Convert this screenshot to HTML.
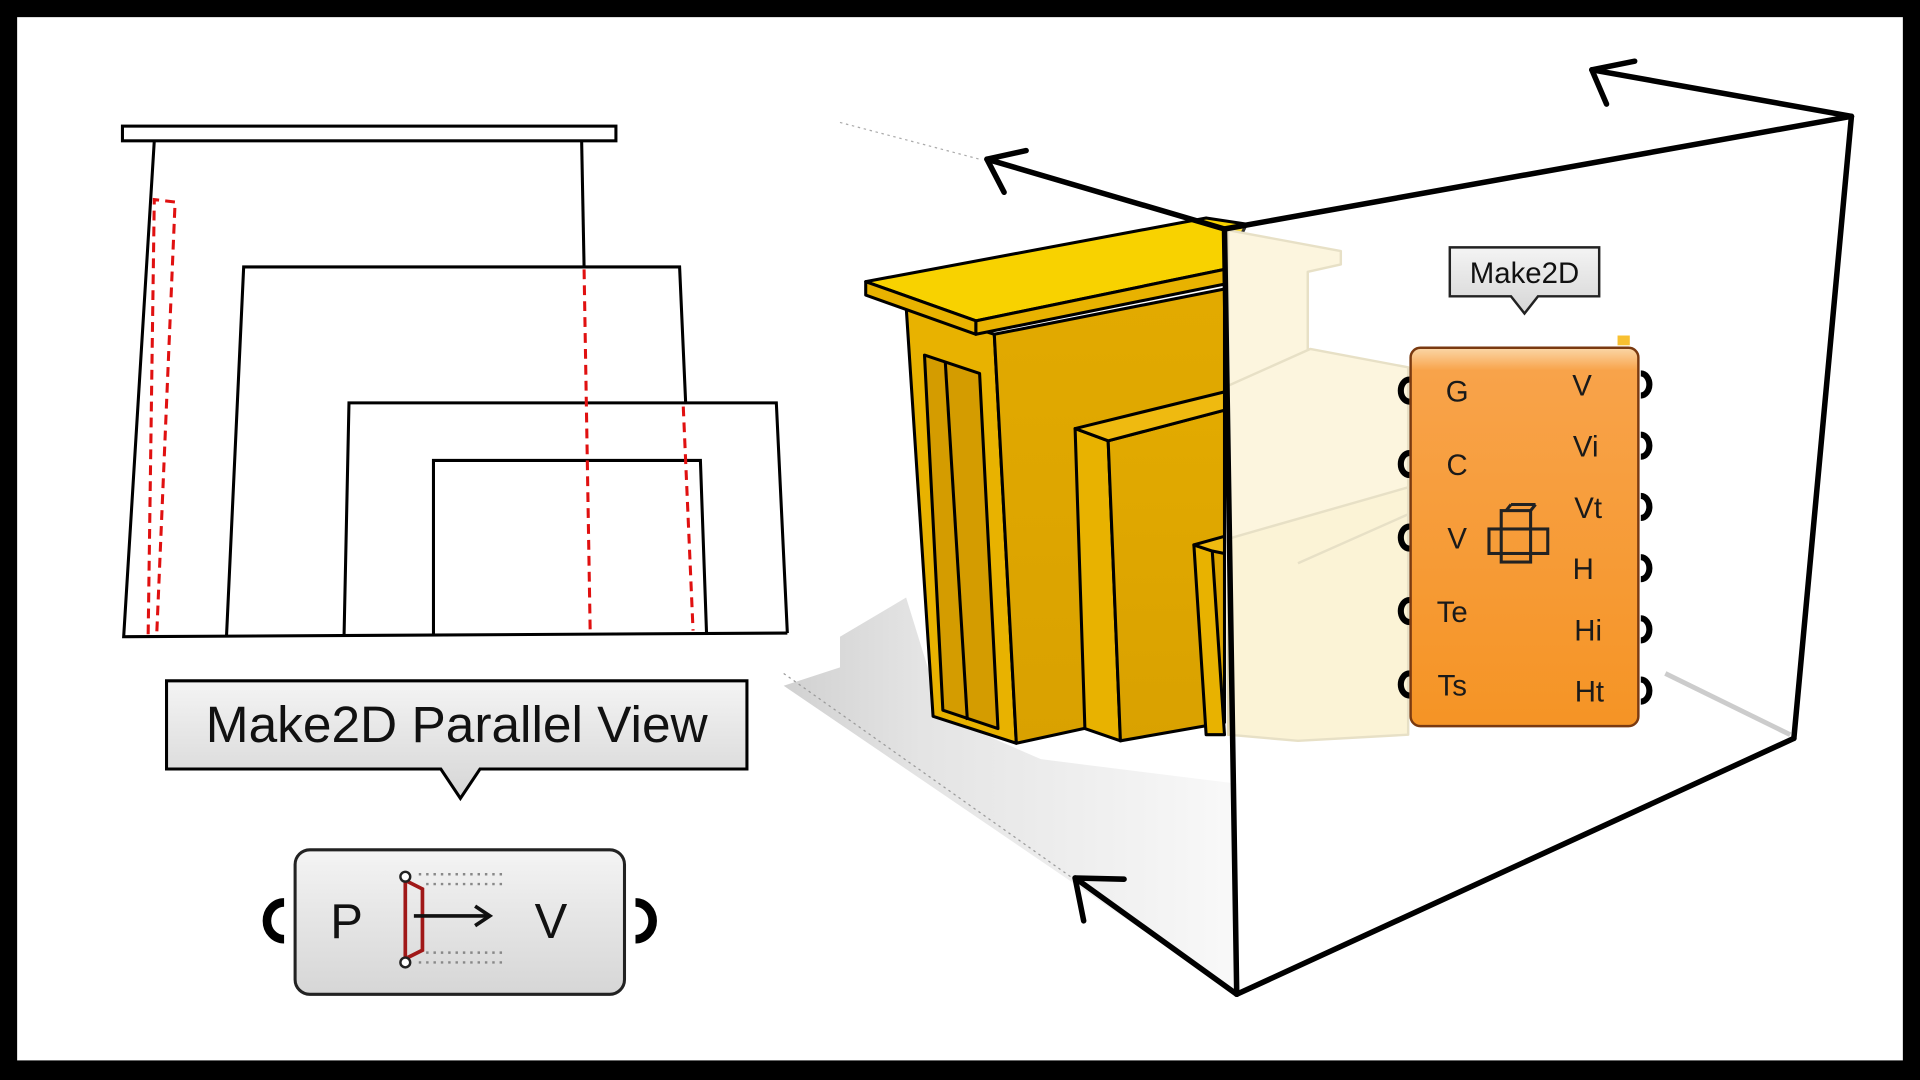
<!DOCTYPE html>
<html><head><meta charset="utf-8"><style>
html,body{margin:0;padding:0;background:#000;}
svg{display:block;}
text{font-family:"Liberation Sans",sans-serif;}
</style></head><body>
<svg width="1920" height="1080" viewBox="0 0 1568 882" preserveAspectRatio="none" xmlns="http://www.w3.org/2000/svg">
<defs>
<linearGradient id="gray" x1="0" y1="0" x2="0" y2="1"><stop offset="0" stop-color="#f4f4f4"/><stop offset="0.45" stop-color="#e6e6e6"/><stop offset="1" stop-color="#d6d6d6"/></linearGradient>
<linearGradient id="org" x1="0" y1="0" x2="0" y2="1"><stop offset="0" stop-color="#fbd7a8"/><stop offset="0.06" stop-color="#f8a34a"/><stop offset="1" stop-color="#f59425"/></linearGradient>
<linearGradient id="shadow" x1="0" y1="0" x2="1" y2="0"><stop offset="0" stop-color="#bdbdbd"/><stop offset="0.3" stop-color="#d8d8d8"/><stop offset="1" stop-color="#f6f6f6"/></linearGradient>
<linearGradient id="yel" x1="0" y1="0" x2="0" y2="1"><stop offset="0" stop-color="#e2aa00"/><stop offset="1" stop-color="#d9a100"/></linearGradient>
</defs>
<rect x="0" y="0" width="1568" height="882" fill="#000"/>
<rect x="14" y="14" width="1540" height="852" fill="#fff"/>

<!-- LEFT 2D DRAWING -->
<g fill="none" stroke="#000" stroke-width="2.5">
<rect x="100" y="103" width="403" height="12" fill="#fff"/>
<polyline points="126,115 101,520 643,517"/>
<line x1="475" y1="115" x2="477" y2="218"/>
<polyline points="185,519 199,218 555,218 560,330"/>
<polyline points="281,518 285,329 634,329 643,517"/>
<polyline points="354,518 354,376 572,376 577,517"/>
</g>
<g fill="none" stroke="#e01010" stroke-width="2.5" stroke-dasharray="8,5">
<polyline points="121,518 126,163 143,165 128,518"/>
<line x1="477" y1="220" x2="482" y2="517"/>
<line x1="558" y1="332" x2="566" y2="515"/>
</g>
<path d="M136,556 H610 V628 H392 L376,652 L360,628 H136 Z" fill="url(#gray)" stroke="#000" stroke-width="2.5"/>
<text x="373" y="606" font-size="42" text-anchor="middle" fill="#111">Make2D Parallel View</text>
<path d="M232,737 a14,15 0 0 0 0,30" fill="none" stroke="#000" stroke-width="7"/>
<path d="M519,737 a14,15 0 0 1 0,30" fill="none" stroke="#000" stroke-width="7"/>
<rect x="241" y="694" width="269" height="118" rx="12" fill="url(#gray)" stroke="#222" stroke-width="2.5"/>
<text x="283" y="766" font-size="40" text-anchor="middle" fill="#111">P</text>
<text x="450" y="766" font-size="40" text-anchor="middle" fill="#111">V</text>
<path d="M331,716 V786 M333,720 L345,726 V776 L333,782" fill="none" stroke="#a01818" stroke-width="3"/>
<circle cx="331" cy="716" r="4" fill="#fff" stroke="#222" stroke-width="2"/>
<circle cx="331" cy="786" r="4" fill="#fff" stroke="#222" stroke-width="2"/>
<line x1="338" y1="748" x2="398" y2="748" stroke="#111" stroke-width="3"/>
<polyline points="388,740 400,748 388,756" fill="none" stroke="#111" stroke-width="3"/>
<g stroke="#888" stroke-width="2" stroke-dasharray="2,4">
<line x1="342" y1="714" x2="410" y2="714"/><line x1="348" y1="722" x2="410" y2="722"/>
<line x1="348" y1="778" x2="410" y2="778"/><line x1="342" y1="786" x2="410" y2="786"/>
</g>

<!-- RIGHT 3D -->
<polygon points="686,520 740,488 770,585 850,620 1010,640 1010,812 640,560 686,545" fill="url(#shadow)" opacity="0.7"/>
<line x1="640" y1="550" x2="880" y2="720" stroke="#999" stroke-width="1" stroke-dasharray="2,3"/>
<line x1="686" y1="100" x2="800" y2="130" stroke="#aaa" stroke-width="1" stroke-dasharray="2,3"/>
<g stroke="#000" stroke-width="2.5" stroke-linejoin="round">
<polygon points="740,250 812,273 830,607 762,585" fill="#e8b200"/>
<polygon points="812,273 1000,236 1000,570 830,607" fill="url(#yel)"/>
<polygon points="755,290 800,305 815,595 770,580" fill="#d49c00"/>
<line x1="772" y1="296" x2="790" y2="588"/>
<polygon points="878,350 905,360 915,605 886,595" fill="#e8b200"/>
<polygon points="905,360 1000,335 1000,590 915,605" fill="url(#yel)"/>
<polygon points="878,350 1000,320 1000,335 905,360" fill="#efba10"/>
<polygon points="975,445 990,450 1000,600 985,600" fill="#e8b200"/>
<polygon points="975,445 1000,438 1000,452 990,450" fill="#efba10"/>
<polygon points="707,230 985,178 1018,183 1000,220 797,262" fill="#f8d200"/>
<polygon points="707,230 797,262 797,273 707,241" fill="#e8b200"/>
<polygon points="797,262 1000,220 1000,232 797,273" fill="#e8b200"/>
</g>
<g fill="#fcf3d6" stroke="#e2d9b8" stroke-width="2" stroke-linejoin="round">
<polygon points="1003,188 1095,205 1095,216 1068,222 1068,300 1003,315"/>
<polygon points="1003,315 1070,285 1150,300 1150,420 1060,460 1060,600 1003,600"/>
<polygon points="1003,440 1150,398 1150,600 1060,605 1003,600" fill="#fbf0cc"/>
<polyline points="1060,460 1150,420" fill="none"/>
</g>
<polygon points="1000,187 1512,95 1465,603 1010,812" fill="#fff" fill-opacity="0.2"/>
<line x1="1360" y1="550" x2="1462" y2="600" stroke="#ccc" stroke-width="4"/>
<g stroke="#000" stroke-width="4.5" fill="none" stroke-linecap="round" stroke-linejoin="round">
<line x1="1000" y1="187" x2="1512" y2="95"/>
<line x1="1512" y1="95" x2="1465" y2="603"/>
<line x1="1465" y1="603" x2="1010" y2="812"/>
<line x1="1000" y1="187" x2="1010" y2="812"/>
<line x1="1000" y1="187" x2="806" y2="130"/>
<polyline points="838,123 806,130 820,157"/>
<line x1="1512" y1="95" x2="1300" y2="57"/>
<polyline points="1335,50 1300,57 1312,85"/>
<line x1="1010" y1="812" x2="878" y2="717"/>
<polyline points="918,718 878,717 885,752"/>
</g>
<path d="M1184,202 H1306 V242 H1256 L1245,256 L1234,242 H1184 Z" fill="url(#gray)" stroke="#222" stroke-width="2"/>
<text x="1245" y="231" font-size="24" text-anchor="middle" fill="#111">Make2D</text>
<rect x="1321" y="274" width="10" height="8" fill="#f8c030"/>
<g fill="none" stroke="#000" stroke-width="5">
<path d="M1151,310 a7,9 0 0 0 0,18"/><path d="M1151,370 a7,9 0 0 0 0,18"/><path d="M1151,430 a7,9 0 0 0 0,18"/><path d="M1151,490 a7,9 0 0 0 0,18"/><path d="M1151,550 a7,9 0 0 0 0,18"/>
<path d="M1340,305 a7,9 0 0 1 0,18"/><path d="M1340,355 a7,9 0 0 1 0,18"/><path d="M1340,405 a7,9 0 0 1 0,18"/><path d="M1340,455 a7,9 0 0 1 0,18"/><path d="M1340,505 a7,9 0 0 1 0,18"/><path d="M1340,555 a7,9 0 0 1 0,18"/>
</g>
<rect x="1152" y="284" width="186" height="309" rx="8" fill="url(#org)" stroke="#7a3a10" stroke-width="2"/>
<g font-size="24" fill="#1a1a1a" text-anchor="middle">
<text x="1190" y="328">G</text><text x="1190" y="388">C</text><text x="1190" y="448">V</text><text x="1186" y="508">Te</text><text x="1186" y="568">Ts</text>
<text x="1292" y="323">V</text><text x="1295" y="373">Vi</text><text x="1297" y="423">Vt</text><text x="1293" y="473">H</text><text x="1297" y="523">Hi</text><text x="1298" y="573">Ht</text>
</g>
<g fill="none" stroke="#222" stroke-width="2.5">
<rect x="1226" y="417" width="24" height="42"/>
<rect x="1216" y="432" width="48" height="20"/>
<line x1="1230" y1="417" x2="1234" y2="412"/><line x1="1250" y1="417" x2="1254" y2="412"/><line x1="1234" y1="412" x2="1254" y2="412"/>
</g>
</svg>
</body></html>
